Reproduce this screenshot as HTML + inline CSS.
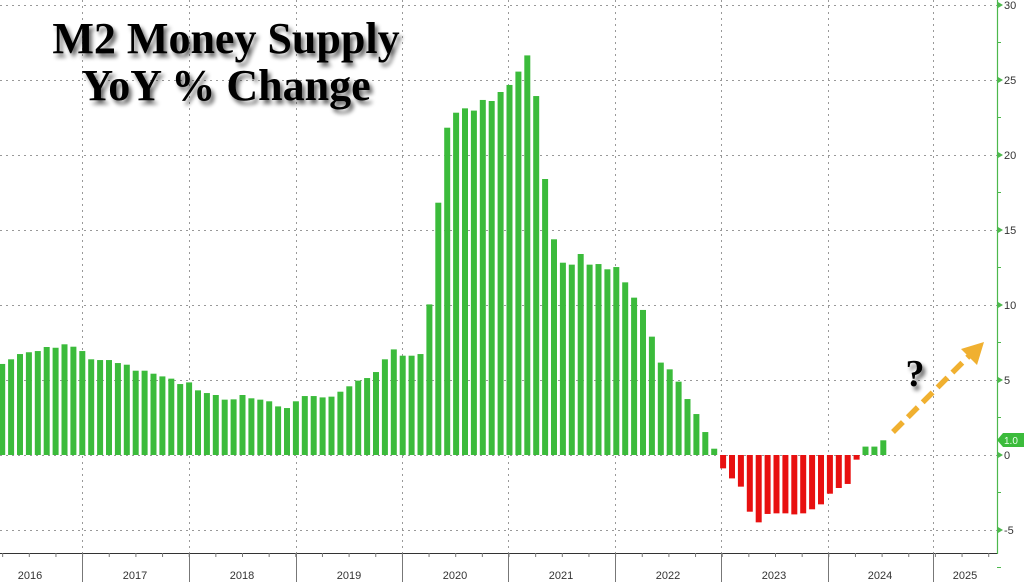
<!DOCTYPE html>
<html><head><meta charset="utf-8">
<style>
html,body{margin:0;padding:0;background:#fff;width:1024px;height:582px;overflow:hidden}
svg{display:block}
.t{font-family:"Liberation Sans",sans-serif;font-size:11px;fill:#333}
.ttl{font-family:"Liberation Serif",serif;font-weight:bold;font-size:44px;fill:#000}
</style></head><body>
<svg id="s" width="1024" height="582" viewBox="0 0 1024 582" xmlns="http://www.w3.org/2000/svg">
<defs>
<filter id="sh" x="-10%" y="-10%" width="130%" height="140%">
<feGaussianBlur in="SourceAlpha" stdDeviation="2"/>
<feOffset dx="3" dy="4" result="b"/>
<feComponentTransfer><feFuncA type="linear" slope="0.6"/></feComponentTransfer>
<feMerge><feMergeNode/><feMergeNode in="SourceGraphic"/></feMerge>
</filter>
</defs>
<g id="grid" stroke="#999" stroke-width="1" stroke-dasharray="2,4"></g>
<g id="bars"></g>
<g id="axis"></g>
<text class="ttl" x="226" y="53" text-anchor="middle" filter="url(#sh)">M2 Money Supply</text>
<text class="ttl" x="226" y="100" text-anchor="middle" filter="url(#sh)">YoY % Change</text>
<line x1="893" y1="432" x2="972" y2="353" stroke="#f0b030" stroke-width="5.5" stroke-dasharray="14,7"/>
<polygon points="984,342 961,349 977,365" fill="#f0b030"/>
<text x="915" y="386" text-anchor="middle" font-family="Liberation Serif,serif" font-weight="bold" font-size="38" fill="#000" filter="url(#sh)">?</text>
</svg>
<script>
var v=[6.07,6.38,6.73,6.85,6.93,7.2,7.15,7.38,7.22,6.93,6.38,6.33,6.33,6.13,6.02,5.62,5.62,5.42,5.24,5.09,4.73,4.84,4.31,4.13,4.0,3.69,3.71,4.0,3.78,3.69,3.58,3.24,3.13,3.58,3.93,3.93,3.84,3.89,4.22,4.58,4.96,5.13,5.53,6.38,7.04,6.62,6.62,6.73,10.04,16.82,21.82,22.82,23.11,22.96,23.67,23.6,24.2,24.67,25.56,26.64,23.93,18.4,14.38,12.82,12.69,13.4,12.69,12.73,12.38,12.53,11.51,10.49,9.67,7.89,6.16,5.71,4.89,3.73,2.73,1.53,0.42,-0.89,-1.56,-2.11,-3.78,-4.49,-3.93,-3.89,-3.89,-3.96,-3.89,-3.62,-3.29,-2.58,-2.2,-1.93,-0.31,0.56,0.56,0.98];
var NS="http://www.w3.org/2000/svg";
function el(p,n,a,txt){var e=document.createElementNS(NS,n);for(var k in a)e.setAttribute(k,a[k]);if(txt!=null)e.textContent=txt;document.getElementById(p).appendChild(e);return e;}
function Y(val){return 455-val*15;}
for(var g=-5;g<=30;g+=5){el('grid','line',{x1:0,x2:997,y1:Y(g)+0.5,y2:Y(g)+0.5});}
var yl=[82,189,296,402,508,615,721,828,933];
yl.forEach(function(x){el('grid','line',{x1:x+0.5,x2:x+0.5,y1:0,y2:553});});
v.forEach(function(val,k){var x=-0.8+k*8.9;var y0=Y(0);
 if(val>=0)el('bars','rect',{x:x,y:Y(val),width:6,height:y0-Y(val),fill:'#3bbb3b'});
 else el('bars','rect',{x:x,y:y0,width:6,height:Y(val)-y0,fill:'#e81010'});});
el('axis','line',{x1:997.5,x2:997.5,y1:0,y2:554,stroke:'#4cb84c','stroke-width':1.2});
el('axis','line',{x1:0,x2:997,y1:553.5,y2:553.5,stroke:'#333','stroke-width':1});
for(var g=-5;g<=30;g+=5){el('axis','polygon',{points:'998,'+(Y(g)-3)+' 1003,'+Y(g)+' 998,'+(Y(g)+3),fill:'#4cb84c'});
 el('axis','text',{'class':'t',x:1004,y:Y(g)+4},String(g));}
for(var g=-7.5;g<=27.5;g+=5){el('axis','line',{x1:997,x2:1001,y1:Y(g),y2:Y(g),stroke:'#4cb84c'});}
yl.forEach(function(x){el('axis','line',{x1:x+0.5,x2:x+0.5,y1:553,y2:582,stroke:'#777'});});
for(var q=-24;q<=1000;q+=26.65){el('axis','line',{x1:q,x2:q,y1:553,y2:557,stroke:'#777'});}
var yrs=['2016','2017','2018','2019','2020','2021','2022','2023','2024','2025'];
var cs=[30,135,242,349,455,561,668,774,880,965];
yrs.forEach(function(t,i){el('axis','text',{'class':'t',x:cs[i],y:579,'text-anchor':'middle'},t);});
el('axis','polygon',{points:'997,440 1003,433 1024,433 1024,447 1003,447',fill:'#3bbb3b'});
el('axis','text',{'class':'t',x:1004,y:444,style:'font-size:10px;fill:#eaffea'},'1.0');
</script>
</body></html>
